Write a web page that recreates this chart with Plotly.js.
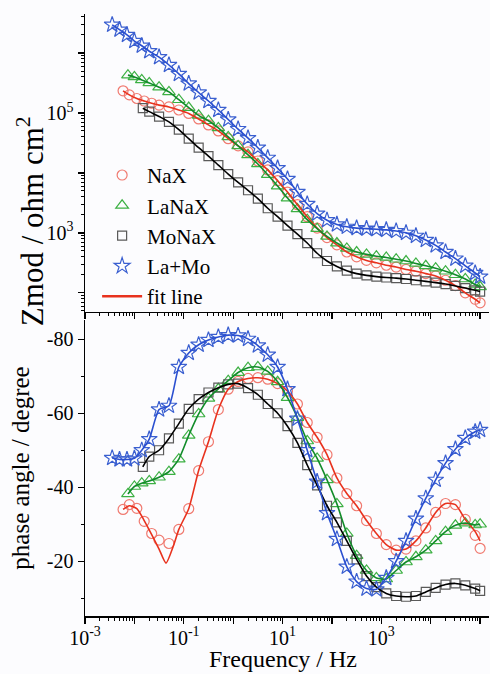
<!DOCTYPE html>
<html>
<head>
<meta charset="utf-8">
<script src="https://cdn.plot.ly/plotly-3.0.1.min.js"></script>
<style>
  html, body { margin: 0; padding: 0; background: #fcfcfe; }
  #chart { width: 490px; height: 674px; }
</style>
</head>
<body>
<div id="chart"></div>
<script>
// ---------------- data (frequency in Hz, |Z| in ohm cm2, phase in degree) ----------------
const seriesNames = ['NaX', 'LaNaX', 'MoNaX', 'La+Mo'];

const freqNaX = [0.0059, 0.0079, 0.0112, 0.0158, 0.0224,
  0.0316, 0.0501, 0.0794, 0.126, 0.2, 0.316, 0.501, 0.794, 1.26, 2.0, 3.16, 5.01, 7.94, 12.6, 20, 31.6, 50.1, 79.4,
  126, 200, 316, 501, 794, 1259, 1995, 3162, 5012, 7943, 12589, 19953, 31623, 50119, 79433, 100000];
const zNaX = [2.34e5, 2.0e5, 1.74e5, 1.58e5, 1.45e5,
  1.35e5, 1.26e5, 1.12e5, 9.8e4, 7.94e4, 6.31e4, 5.01e4, 3.72e4, 2.82e4, 2.24e4, 1.58e4, 1.12e4, 7.41e3, 4.79e3, 2.95e3, 1.86e3, 1.2e3, 832,
  631, 479, 398, 347, 316, 288, 269, 245, 229, 209, 191, 162, 132, 100, 78, 68];
const phNaX = [-34, -35.3, -34.3, -30.8, -27.5,
  -25.7, -24.8, -28.6, -34.2, -44.5, -52.3, -61, -66.5, -68.6, -69.4, -69.6, -69.2, -68, -66, -62.5, -57.5, -53.5, -48.8,
  -42.5, -38.3, -35, -31, -27.5, -24.5, -23, -23.3, -25.5, -29, -33.2, -35.6, -35.3, -31.3, -27, -23.5];
// NaX fitted phase curve (differs from the data at the low-frequency dip)
const fitFreqNaX = [0.0059, 0.0079, 0.0112, 0.0158, 0.0224, 0.0316, 0.0437, 0.0631, 0.0794, 0.126,
  0.2, 0.316, 0.501, 0.794, 1.26, 2.0, 3.16, 5.01, 7.94, 12.6, 20, 31.6, 50.1, 79.4,
  126, 200, 316, 501, 794, 1259, 1995, 3162, 5012, 7943, 12589, 19953, 31623, 50119, 79433, 100000];
const fitPhNaX = [-34, -35, -34.2, -31, -27.2, -23.3, -19.5, -24.5, -28.6, -34.2,
  -44.5, -52.3, -61, -66.5, -68.6, -69.4, -69.6, -69.2, -68, -66, -62.5, -57.5, -53.5, -48.8,
  -42.5, -38.3, -35, -31, -27.5, -24.5, -23, -23.3, -25.5, -29, -33.2, -35.6, -35.3, -31.3, -28, -25.5];

const freqLaNaX = [0.0074, 0.01, 0.0141, 0.02,
  0.0316, 0.0501, 0.0794, 0.126, 0.2, 0.316, 0.501, 0.794, 1.26, 2.0, 3.16, 5.01, 7.94, 12.6, 20, 31.6, 50.1, 79.4,
  126, 200, 316, 501, 794, 1259, 1995, 3162, 5012, 7943, 12589, 19953, 31623, 50119, 79433, 100000];
const zLaNaX = [4.27e5, 3.98e5, 3.55e5, 3.16e5,
  2.69e5, 2.24e5, 1.66e5, 1.23e5, 9.12e4, 7.41e4, 5.62e4, 3.98e4, 2.82e4, 2.0e4, 1.41e4, 9.33e3, 6.03e3, 3.8e3, 2.51e3, 1.66e3, 1.175e3, 871,
  676, 550, 479, 437, 407, 389, 363, 339, 309, 282, 257, 229, 200, 170, 138, 126];
const phLaNaX = [-38.2, -40.2, -41.1, -41.7,
  -42.7, -44.2, -47.6, -54, -59.8, -64, -66.6, -68.8, -71, -72.3, -72.5, -71.3, -68.5, -64.2, -58.8, -52.5, -47.8, -42,
  -35.5, -27.5, -21.5, -17.5, -15.5, -15.2, -17.5, -19.8, -21.2, -23, -25.5, -28, -29.7, -30.3, -29.8, -30];

const freqMoNaX = [0.0148, 0.02,
  0.0316, 0.0501, 0.0794, 0.126, 0.2, 0.316, 0.501, 0.794, 1.26, 2.0, 3.16, 5.01, 7.94, 12.6, 20, 31.6, 50.1, 79.4,
  126, 200, 316, 501, 794, 1259, 1995, 3162, 5012, 7943, 12589, 19953, 31623, 50119, 79433, 100000];
const zMoNaX = [1.2e5, 1.05e5,
  8.71e4, 7.08e4, 5.25e4, 3.72e4, 2.63e4, 1.91e4, 1.35e4, 9.55e3, 6.92e3, 5.13e3, 3.72e3, 2.57e3, 1.86e3, 1.32e3, 955, 676, 457, 339,
  275, 234, 209, 195, 186, 180, 176, 170, 162, 155, 148, 140, 130, 120, 110, 105];
const phMoNaX = [-45.5, -48.3,
  -50, -53.2, -57.2, -61.2, -63.8, -65.6, -66.9, -67.8, -68, -66.8, -65, -62.5, -60, -56.5, -52, -46, -40.5, -35,
  -30.5, -25.5, -20.5, -16, -13, -11.3, -10.6, -10.4, -10.6, -11.7, -12.8, -13.7, -14, -13.5, -12.6, -12];

const freqLaMo = [0.00355, 0.005, 0.00708, 0.01, 0.0141, 0.02,
  0.0316, 0.0501, 0.0794, 0.126, 0.2, 0.316, 0.501, 0.794, 1.26, 2.0, 3.16, 5.01, 7.94, 12.6, 20, 31.6, 50.1, 79.4,
  126, 200, 316, 501, 794, 1259, 1995, 3162, 5012, 7943, 12589, 19953, 31623, 50119, 79433, 100000];
const zLaMo = [2.95e6, 2.45e6, 2.0e6, 1.58e6, 1.32e6, 1.07e6,
  8.5e5, 6.3e5, 4.47e5, 3.09e5, 2.19e5, 1.58e5, 1.12e5, 7.76e4, 5.37e4, 3.8e4, 2.63e4, 1.78e4, 1.2e4, 7.9e3, 4.79e3, 3.02e3, 2.09e3, 1.62e3,
  1.38e3, 1.26e3, 1.2e3, 1.175e3, 1.15e3, 1.12e3, 1.07e3, 1.0e3, 891, 759, 617, 479, 372, 282, 214, 186];
const phLaMo = [-47.9, -47.5, -47.5, -47.8, -50, -53,
  -61, -62, -72.5, -76.3, -78.5, -79.8, -80.6, -81.1, -81, -80.1, -78.3, -75.8, -72.5, -66.5, -58.5, -50, -41.5, -33,
  -26, -18.5, -14.5, -12.6, -12.4, -15.5, -20, -25.5, -31.5, -37, -42, -46.5, -50.3, -53.3, -55, -55.5];

// tick labels
const decadeTicks = [0.001, 0.01, 0.1, 1, 10, 100, 1000, 10000, 100000];
const decadeLabels = ['10<sup>-3</sup>', '', '10<sup>-1</sup>', '', '10<sup>1</sup>', '', '10<sup>3</sup>', '', '10<sup>5</sup>'];
const zTicks = [100, 1000, 10000, 100000, 1000000];
const zLabels = ['', '10<sup>3</sup>', '', '10<sup>5</sup>', ''];
const phTicks = [-80, -60, -40, -20];
const phLabels = ['-80', '-60', '-40', '-20'];

// ---------------- styling ----------------
const FONT = 'Liberation Serif';
const styles = {
  'NaX':   {symbol: 'circle-open',      mcol: '#f07a70', lcol: '#e8321e', size: 10},
  'LaNaX': {symbol: 'triangle-up-open', mcol: '#3cb043', lcol: '#128c2a', size: 11},
  'MoNaX': {symbol: 'square-open',      mcol: '#5a5a5a', lcol: '#000000', size: 9},
  'La+Mo': {symbol: 'star-open',        mcol: '#3a5fd0', lcol: '#2a4fd0', size: 12}
};
const dataSets = {
  'NaX':   {f: freqNaX, z: zNaX, p: phNaX},
  'LaNaX': {f: freqLaNaX, z: zLaNaX, p: phLaNaX},
  'MoNaX': {f: freqMoNaX, z: zMoNaX, p: phMoNaX},
  'La+Mo': {f: freqLaMo, z: zLaMo, p: phLaMo}
};

const traces = [];
seriesNames.forEach((name, i) => {
  const s = styles[name], d = dataSets[name];
  const mk = {symbol: s.symbol, size: s.size, color: s.mcol, line: {color: s.mcol, width: 1.2}};
  traces.push({x: d.f, y: d.z, xaxis: 'x', yaxis: 'y', mode: 'markers', name: name,
    marker: mk, legendrank: i + 1, showlegend: true});
  traces.push({x: d.f, y: d.p, xaxis: 'x2', yaxis: 'y2', mode: 'markers', name: name,
    marker: mk, showlegend: false});
});
seriesNames.forEach((name) => {
  const s = styles[name], d = dataSets[name];
  traces.push({x: d.f, y: d.z, xaxis: 'x', yaxis: 'y', mode: 'lines', name: name + ' fit',
    line: {color: s.lcol, width: 1.6, shape: 'spline', smoothing: 0.8}, showlegend: false});
  const fx = name === 'NaX' ? fitFreqNaX : d.f;
  const fy = name === 'NaX' ? fitPhNaX : d.p;
  traces.push({x: fx, y: fy, xaxis: 'x2', yaxis: 'y2', mode: 'lines', name: name + ' fit',
    line: {color: s.lcol, width: 1.6, shape: 'spline', smoothing: 0.6}, showlegend: false});
});
// legend entry for the fit line
traces.push({x: [null], y: [null], xaxis: 'x', yaxis: 'y', mode: 'lines', name: 'fit line',
  line: {color: '#e8321e', width: 2.5}, legendrank: 5, showlegend: true});

// minor tick positions for log axes (2..9 of every decade)
function logMinor(lo, hi) {
  const out = [];
  for (let e = lo; e <= hi; e++) for (let k = 2; k <= 9; k++) out.push(k * Math.pow(10, e));
  return out;
}

function axisBase() {
  return {
    showline: true, linecolor: '#000', linewidth: 1.5, mirror: false,
    showgrid: false, zeroline: false, ticks: 'outside', ticklen: 6, tickwidth: 1.3, tickcolor: '#000',
    tickfont: {family: FONT, size: 20, color: '#000'}
  };
}

const layout = {
  width: 490, height: 674,
  paper_bgcolor: '#fcfcfe', plot_bgcolor: '#fcfcfe',
  margin: {l: 85, r: 1, t: 14, b: 58},
  font: {family: FONT, color: '#000', size: 20},
  showlegend: true,
  legend: {x: 0.03, y: 0.766, xanchor: 'left', yanchor: 'top', bgcolor: 'rgba(0,0,0,0)',
    font: {family: FONT, size: 21, color: '#000'}, tracegroupgap: 0, itemwidth: 40},
  xaxis: Object.assign(axisBase(), {
    type: 'log', range: [-3, 5.18], anchor: 'y', showticklabels: false,
    tickmode: 'array', tickvals: decadeTicks,
    minor: {tickmode: 'array', tickvals: logMinor(-3, 4), ticks: 'outside', ticklen: 3, tickwidth: 1, tickcolor: '#000'}
  }),
  xaxis2: Object.assign(axisBase(), {
    type: 'log', range: [-3, 5.18], anchor: 'y2', matches: 'x',
    tickmode: 'array', tickvals: decadeTicks, ticktext: decadeLabels, ticklabelstandoff: -3,
    minor: {tickmode: 'array', tickvals: logMinor(-3, 4), ticks: 'outside', ticklen: 3, tickwidth: 1, tickcolor: '#000'}
  }),
  yaxis: Object.assign(axisBase(), {
    type: 'log', range: [1.68, 6.65], domain: [0.505, 1], anchor: 'x',
    tickmode: 'array', tickvals: zTicks, ticktext: zLabels,
    minor: {tickmode: 'array', tickvals: logMinor(1, 6), ticks: 'outside', ticklen: 3, tickwidth: 1, tickcolor: '#000'}
  }),
  yaxis2: Object.assign(axisBase(), {
    range: [-5.2, -85.2], domain: [0, 0.4917], anchor: 'x2',
    tickmode: 'array', tickvals: phTicks, ticktext: phLabels,
    minor: {dtick: 10, tick0: 0, ticks: 'outside', ticklen: 3, tickwidth: 1, tickcolor: '#000'},
    title: {text: 'phase angle / degree', font: {family: FONT, size: 25, color: '#000'}, standoff: 10}
  }),
  annotations: [{
    text: 'Zmod / ohm cm<sup>2</sup>', textangle: -90, showarrow: false,
    xref: 'paper', yref: 'paper', x: -0.136, y: 0.656, xanchor: 'center', yanchor: 'middle',
    font: {family: FONT, size: 31, color: '#000'}
  }, {
    text: 'Frequency / Hz', showarrow: false,
    xref: 'paper', yref: 'paper', x: 0.49, y: -0.0715, xanchor: 'center', yanchor: 'middle',
    font: {family: FONT, size: 24, color: '#000'}
  }]
};

Plotly.newPlot('chart', traces, layout, {displayModeBar: false, staticPlot: true});
</script>
</body>
</html>
